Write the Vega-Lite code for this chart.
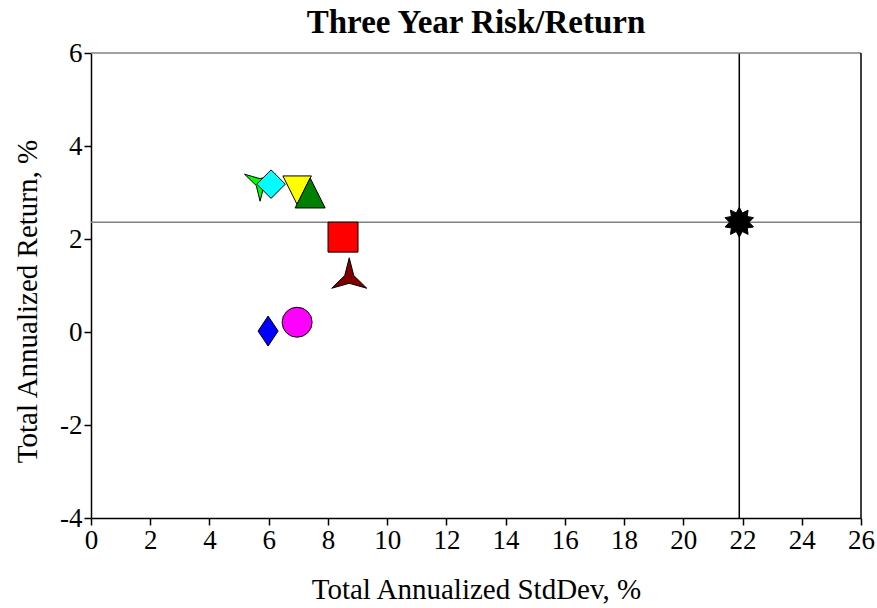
{
  "$schema": "https://vega.github.io/schema/vega-lite/v6.json",
  "width": 770,
  "height": 465,
  "autosize": {"type": "none"},
  "padding": {"left": 91, "top": 53, "right": 16, "bottom": 90},
  "background": "white",
  "config": {
    "view": {"stroke": null},
    "font": "Liberation Serif",
    "axis": {
      "grid": false,
      "domainColor": "black",
      "domainWidth": 1.5,
      "tickColor": "black",
      "tickWidth": 1.5,
      "tickSize": 7,
      "labelColor": "black",
      "labelFont": "Liberation Serif",
      "labelFontSize": 27,
      "labelFlush": false,
      "labelOverlap": false,
      "labelExpr": "'' + datum.value",
      "titleColor": "black",
      "titleFont": "Liberation Serif",
      "titleFontSize": 29,
      "titleFontWeight": "normal"
    }
  },
  "title": {
    "text": "Three Year Risk/Return",
    "font": "Liberation Serif",
    "fontSize": 33,
    "fontWeight": "bold",
    "color": "black",
    "anchor": "middle",
    "frame": "group",
    "baseline": "bottom",
    "offset": 2,
    "dy": 36
  },
  "datasets": {
    "points": [
      {"series": "Fund A", "sd": 5.71, "ret": 3.20},
      {"series": "Fund B", "sd": 6.08, "ret": 3.18},
      {"series": "Fund C", "sd": 6.96, "ret": 3.05},
      {"series": "Fund D", "sd": 7.40, "ret": 2.99},
      {"series": "Fund E", "sd": 8.51, "ret": 2.04},
      {"series": "Fund F", "sd": 8.72, "ret": 1.16},
      {"series": "Fund G", "sd": 5.98, "ret": 0.02},
      {"series": "Fund H", "sd": 6.96, "ret": 0.21},
      {"series": "Benchmark", "sd": 21.89, "ret": 2.36}
    ],
    "hline": [{"ret": 2.36}],
    "vline": [{"sd": 21.89}],
    "topborder": [{"ret": 6}],
    "rightborder": [{"sd": 26}]
  },
  "layer": [
    {
      "data": {"name": "hline"},
      "mark": {"type": "rule", "color": "#808080", "strokeWidth": 1.5},
      "encoding": {"y": {"field": "ret", "type": "quantitative", "scale": {"domain": [-4, 6]}}}
    },
    {
      "data": {"name": "vline"},
      "mark": {"type": "rule", "color": "black", "strokeWidth": 1.5},
      "encoding": {"x": {"field": "sd", "type": "quantitative", "scale": {"domain": [0, 26]}}}
    },
    {
      "data": {"name": "topborder"},
      "mark": {"type": "rule", "color": "#808080", "strokeWidth": 1.5},
      "encoding": {"y": {"field": "ret", "type": "quantitative"}}
    },
    {
      "data": {"name": "rightborder"},
      "mark": {"type": "rule", "color": "black", "strokeWidth": 1.5},
      "encoding": {"x": {"field": "sd", "type": "quantitative"}}
    },
    {
      "data": {"name": "points"},
      "mark": {"type": "point", "filled": true, "stroke": "black", "strokeWidth": 1, "opacity": 1, "size": 900},
      "encoding": {
        "x": {
          "field": "sd",
          "type": "quantitative",
          "scale": {"domain": [0, 26], "nice": false, "zero": false},
          "axis": {"values": [0, 2, 4, 6, 8, 10, 12, 14, 16, 18, 20, 22, 24, 26], "title": "Total Annualized StdDev, %", "titlePadding": 22}
        },
        "y": {
          "field": "ret",
          "type": "quantitative",
          "scale": {"domain": [-4, 6], "nice": false, "zero": false},
          "axis": {"values": [-4, -2, 0, 2, 4, 6], "title": "Total Annualized Return, %", "titlePadding": 17, "titleY": 248}
        },
        "color": {
          "field": "series",
          "type": "nominal",
          "legend": null,
          "scale": {
            "domain": ["Fund A", "Fund B", "Fund C", "Fund D", "Fund E", "Fund F", "Fund G", "Fund H", "Benchmark"],
            "range": ["#00FF00", "#00FFFF", "#FFFF00", "#008000", "#FF0000", "#800000", "#0000FF", "#FF00FF", "#000000"]
          }
        },
        "shape": {
          "field": "series",
          "type": "nominal",
          "legend": null,
          "scale": {
            "domain": ["Fund A", "Fund B", "Fund C", "Fund D", "Fund E", "Fund F", "Fund G", "Fund H", "Benchmark"],
            "range": [
              "M0,1.2L0.26,0.15L1.04,-0.6L0,-0.3L-1.04,-0.6L-0.26,0.15Z",
              "M0,-0.95L0.95,0L0,0.95L-0.95,0Z",
              "M-0.95,-0.95L0.95,-0.95L0,0.95Z",
              "M0,-1L1,1L-1,1Z",
              "M-1,-1L1,-1L1,1L-1,1Z",
              "M0,-1.35L0.3,-0.17L1.17,0.68L0,0.35L-1.17,0.68L-0.3,-0.17Z",
              "M0,-1L0.67,0L0,1L-0.67,0Z",
              "circle",
              "M0,-1L0.201,-0.618L0.588,-0.809L0.526,-0.382L0.951,-0.309L0.65,0L0.951,0.309L0.526,0.382L0.588,0.809L0.201,0.618L0,1L-0.201,0.618L-0.588,0.809L-0.526,0.382L-0.951,0.309L-0.65,0L-0.951,-0.309L-0.526,-0.382L-0.588,-0.809L-0.201,-0.618Z"
            ]
          }
        }
      }
    }
  ]
}
